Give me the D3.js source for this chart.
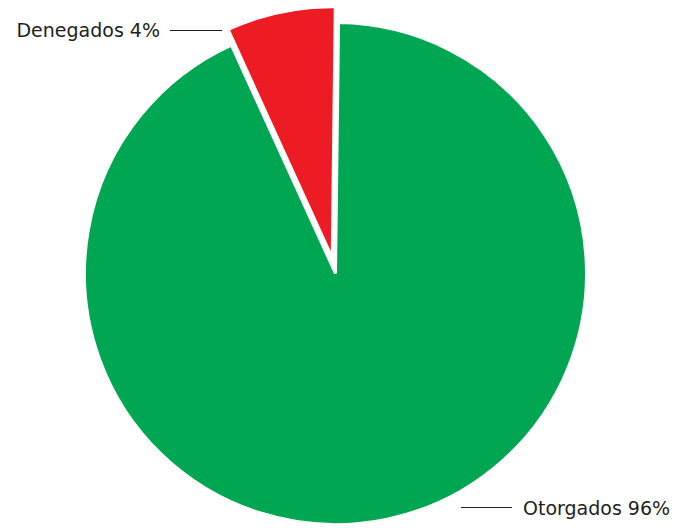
<!DOCTYPE html>
<html><head><meta charset="utf-8">
<script src="https://cdn.jsdelivr.net/npm/d3@7"></script>
<style>html,body{margin:0;padding:0;background:#fff;}svg{display:block;}</style>
</head><body>
<svg id="chart" width="685" height="530"></svg>
<script>
// Data
const categories = ["Otorgados", "Denegados"];
const sliceValues = [93, 7];            // proportions as drawn (slice angles)
const labelTexts = ["Otorgados 96%", "Denegados 4%"];
const colors = ["#00a651", "#ed1c24"];
const explode = [0, 16];

const svg = d3.select("#chart");
const cx = 335.5, cy = 273.5, R = 251;
const start = 0.7 * Math.PI / 180;

const pie = d3.pie().sort(null).value(d => d)
  .startAngle(start).endAngle(start + 2 * Math.PI);
const arcs = pie(sliceValues);
const arc = d3.arc().innerRadius(0).outerRadius(R);

const g = svg.append("g").attr("transform", `translate(${cx},${cy})`);
g.selectAll("path").data(arcs).join("path")
  .attr("d", arc)
  .attr("fill", (d, i) => colors[i])
  .attr("stroke", "#fff")
  .attr("stroke-width", 3)
  .attr("stroke-linejoin", "miter")
  .attr("transform", (d, i) => {
    const m = (d.startAngle + d.endAngle) / 2;
    return `translate(${explode[i] * Math.sin(m)},${-explode[i] * Math.cos(m)})`;
  });

const font = "'DejaVu Sans', Verdana, sans-serif";
const txt = "#231f20";

// Denegados label (left of slice)
const lab = svg.append("g");
lab.append("line").attr("x1", 170).attr("x2", 222).attr("y1", 30.5).attr("y2", 30.5)
  .attr("stroke", txt).attr("stroke-width", 1.2);
lab.append("text").attr("x", 160).attr("y", 37).attr("text-anchor", "end")
  .attr("font-family", font).attr("font-size", 19).attr("fill", txt)
  .text(labelTexts[1]);

// Otorgados label (bottom right)
lab.append("line").attr("x1", 461).attr("x2", 512).attr("y1", 507.5).attr("y2", 507.5)
  .attr("stroke", txt).attr("stroke-width", 1.2);
lab.append("text").attr("x", 523).attr("y", 515)
  .attr("font-family", font).attr("font-size", 19).attr("fill", txt)
  .text(labelTexts[0]);
</script>
</body></html>
